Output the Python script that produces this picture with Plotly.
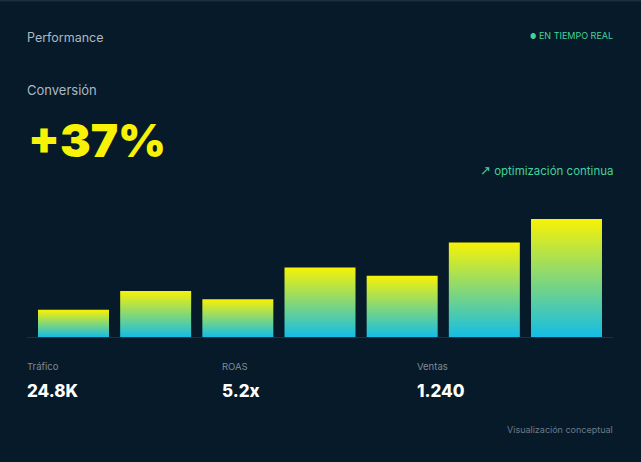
import plotly.graph_objects as go

# bar heights, relative (tallest = 100)
conversion = [23, 39, 32, 59, 52, 80, 100]
periods = list(range(len(conversion)))

kpi_labels = ["Tráfico", "ROAS", "Ventas"]
kpi_values = ["24.8K", "5.2x", "1.240"]
kpi_x = [27, 222, 417]

W, H = 641, 462
BG = "#061a29"
CYAN = "#14bde6"
YELLOW = "#f8f206"
GREEN = "#45d19c"
FONT = "Inter"


def px(x):
    return x / W


def py(y):
    return 1 - y / H


fig = go.Figure()

half = 0.432
for i, v in zip(periods, conversion):
    fig.add_trace(go.Scatter(
        x=[i - half, i - half, i + half, i + half, i - half],
        y=[0, v, v, 0, 0],
        mode="lines",
        line=dict(width=0),
        fill="toself",
        fillgradient=dict(type="vertical", colorscale=[[0, CYAN], [1, YELLOW]]),
        hoverinfo="skip",
        showlegend=False,
    ))

ann = []


def txt(x, y, s, size, color, anchor="left", weight=400):
    # annotations carry a couple of px of padding, compensate
    shift = -2 if anchor == "left" else 2
    ann.append(dict(
        x=px(x), y=py(y), xref="paper", yref="paper", text=s, showarrow=False,
        xanchor=anchor, yanchor="middle", xshift=shift,
        font=dict(family=FONT, size=size, color=color, weight=weight),
    ))


txt(27, 37, "Performance", 12.5, "#aeb8c2")
txt(613, 35, "<span style='font-size:7px'>●</span> EN TIEMPO REAL", 9, GREEN, anchor="right")
txt(27, 90, "Conversión", 13, "#aeb8c2")
txt(28, 140, "+37%", 46, YELLOW, weight=900)
txt(613, 170, "<span style='font-family:DejaVu Sans;font-size:13px'>↗</span> optimización continua",
    11.5, GREEN, anchor="right")
for x, lab, val in zip(kpi_x, kpi_labels, kpi_values):
    txt(x, 366, lab, 9.5, "#7f8b97")
    txt(x, 391, val, 17, "#ffffff", weight=800)
txt(613, 429, "Visualización conceptual", 9, "#6e7b87", anchor="right")

fig.update_layout(
    width=W, height=H,
    margin=dict(l=0, r=0, t=0, b=0),
    paper_bgcolor=BG, plot_bgcolor=BG,
    hovermode=False,
    annotations=ann,
    shapes=[dict(type="line", xref="paper", yref="paper", x0=0, x1=1, y0=py(0.5), y1=py(0.5),
                 line=dict(color="#1c2f3d", width=2))],
    xaxis=dict(domain=[px(27), px(613)], range=[-0.566, 6.566], showgrid=False, zeroline=False,
               showticklabels=False, showline=True, linecolor="#1f3140", linewidth=1, fixedrange=True),
    yaxis=dict(domain=[py(337), py(200)], range=[0, 116.1], showgrid=False, zeroline=False,
               showticklabels=False, showline=False, fixedrange=True),
)

fig.write_html("out.html", config={"displayModeBar": False},
               post_script="document.body.style.margin='0';")
